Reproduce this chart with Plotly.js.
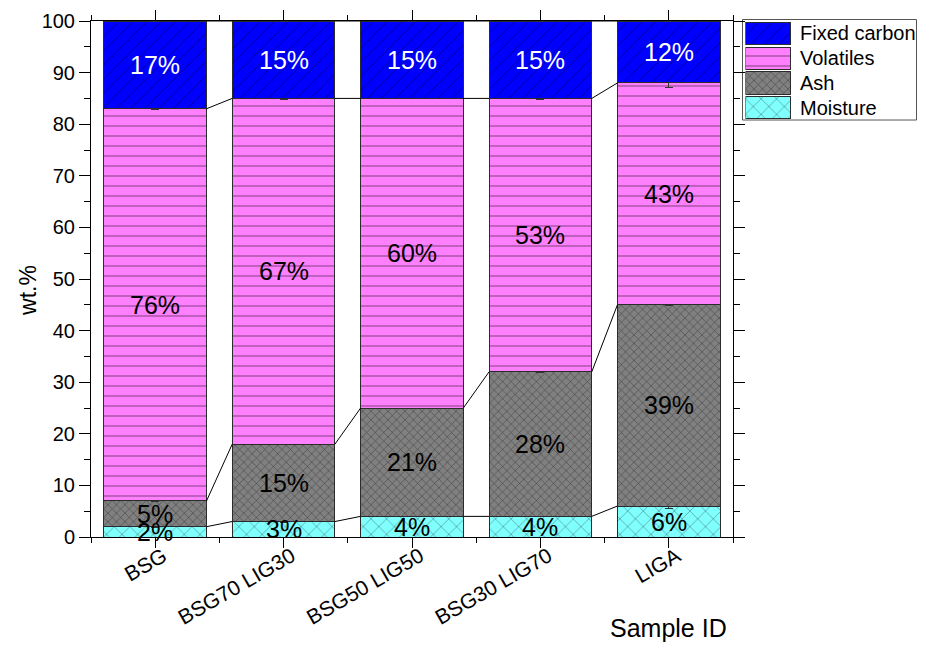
<!DOCTYPE html>
<html>
<head>
<meta charset="utf-8">
<script src="https://cdn.plot.ly/plotly-3.0.1.min.js"></script>
<style>
  html, body { margin: 0; padding: 0; background: #fff; }
  #chart { width: 927px; height: 647px; }
</style>
</head>
<body>
<div id="chart"></div>
<script>
// Proximate analysis of the samples (wt.%)
const categories = ['BSG', 'BSG70 LIG30', 'BSG50 LIG50', 'BSG30 LIG70', 'LIGA'];
const moisture = [2, 3, 4, 4, 6];
const ash = [5, 15, 21, 28, 39];
const volatiles = [76, 67, 60, 53, 43];
const fixedCarbon = [17, 15, 15, 15, 12];

// standard deviations shown as error bars on the top of each segment
const moistureErr = [0.1, 0.1, 0.1, 0.1, 0.4];
const ashErr = [0.1, 0.1, 0.1, 0.1, 0.1];
const volatilesErr = [0.2, 0.2, 0.1, 0.3, 0.8];
const fixedCarbonErr = [0, 0, 0, 0, 0];

const seriesNames = ['Moisture', 'Ash', 'Volatiles', 'Fixed carbon'];
const yTicks = [0, 10, 20, 30, 40, 50, 60, 70, 80, 90, 100];

const FONT = 'Arial, "Liberation Sans", sans-serif';

// fill style of each component (bottom to top)
const styles = [
  { bg: '#80FFFF', shape: 'x', size: 11, solidity: 0.1, text: '#000' },
  { bg: '#808080', shape: 'x', size: 6, solidity: 0.18, text: '#000' },
  { bg: '#FF80FF', shape: '-', size: 10, solidity: 0.1, text: '#000' },
  { bg: '#0000FF', shape: '/', size: 10, solidity: 0.08, text: '#fff' }
];

const values = [moisture, ash, volatiles, fixedCarbon];
const errors = [moistureErr, ashErr, volatilesErr, fixedCarbonErr];
const xIdx = categories.map((_, i) => i);
const BAR_W = 0.8;

function markerFor(s) {
  return {
    color: s.bg,
    line: { color: '#2b2b2b', width: 1 },
    pattern: { shape: s.shape, size: s.size, solidity: s.solidity,
               fgcolor: '#000', bgcolor: s.bg, fillmode: 'overlay' }
  };
}

const traces = [];
const annotations = [];

// running stack tops
let base = categories.map(() => 0);
values.forEach((vals, k) => {
  const tops = vals.map((v, i) => base[i] + v);
  traces.push({
    type: 'bar', x: xIdx, y: vals, width: BAR_W, name: seriesNames[k],
    marker: markerFor(styles[k]), showlegend: false,
    error_y: { type: 'data', array: errors[k], visible: true,
               color: '#333', thickness: 1, width: 4 },
    xaxis: 'x', yaxis: 'y', hoverinfo: 'x+y+name'
  });
  // connector lines between neighbouring bars at each stack level
  const lx = [], ly = [];
  for (let i = 0; i < categories.length - 1; i++) {
    lx.push(i + BAR_W / 2, i + 1 - BAR_W / 2, null);
    ly.push(tops[i], tops[i + 1], null);
  }
  traces.push({
    type: 'scatter', mode: 'lines', x: lx, y: ly, showlegend: false,
    line: { color: '#000', width: 1 }, hoverinfo: 'skip', connectgaps: false,
    xaxis: 'x', yaxis: 'y'
  });
  // percentage labels in the middle of each segment
  vals.forEach((v, i) => {
    annotations.push({
      x: i, y: base[i] + v / 2, xref: 'x', yref: 'y',
      xanchor: 'center', yanchor: 'middle',
      text: v + '%', showarrow: false,
      font: { family: FONT, size: 25, color: styles[k].text }
    });
  });
  base = tops;
});

// legend swatches drawn as bars in a small inset axis
seriesNames.forEach((name, k) => {
  traces.push({
    type: 'bar', orientation: 'h', x: [1], y: [k], base: 0, width: 0.9,
    marker: markerFor(styles[k]), showlegend: false, hoverinfo: 'skip',
    xaxis: 'x2', yaxis: 'y2'
  });
  annotations.push({
    x: 0.8549, xref: 'paper', xanchor: 'left', y: k, yref: 'y2', yanchor: 'middle',
    text: name, showarrow: false,
    font: { family: FONT, size: 20, color: '#000' }
  });
});

// axis titles
annotations.push({
  x: -0.0762, xref: 'paper', xanchor: 'center',
  y: 0.4787, yref: 'paper', yanchor: 'middle', textangle: -90,
  text: 'wt.%', showarrow: false, font: { family: FONT, size: 23, color: '#000' }
});
annotations.push({
  x: 0.6989, xref: 'paper', xanchor: 'center',
  y: -0.1764, yref: 'paper', yanchor: 'middle',
  text: 'Sample ID', showarrow: false, font: { family: FONT, size: 25, color: '#000' }
});

const layout = {
  width: 927, height: 647,
  margin: { l: 91, r: 9, t: 21, b: 110 },
  paper_bgcolor: '#fff', plot_bgcolor: '#fff',
  barmode: 'stack',
  showlegend: false,
  font: { family: FONT, color: '#000' },
  xaxis: {
    domain: [0, 0.7763], range: [-0.5, 4.5], fixedrange: true,
    tickmode: 'array', tickvals: xIdx, ticktext: categories, tickangle: -30,
    ticks: 'outside', ticklen: 10, tickwidth: 1, tickcolor: '#000',
    ticklabelstandoff: -12, ticklabelshift: 8,
    minor: { tick0: 0.5, dtick: 1, ticks: 'outside', ticklen: 5, tickcolor: '#000', showgrid: false },
    showline: true, linecolor: '#000', linewidth: 1, mirror: 'allticks',
    showgrid: false, zeroline: false,
    tickfont: { family: FONT, size: 21, color: '#000' }
  },
  yaxis: {
    range: [0, 100], fixedrange: true,
    tickmode: 'array', tickvals: yTicks,
    ticks: 'outside', ticklen: 11, tickwidth: 1, tickcolor: '#000',
    minor: { tick0: 5, dtick: 10, ticks: 'outside', ticklen: 6, tickcolor: '#000', showgrid: false },
    showline: true, linecolor: '#000', linewidth: 1, mirror: 'allticks',
    showgrid: false, zeroline: false,
    tickfont: { family: FONT, size: 20, color: '#000' }
  },
  xaxis2: {
    domain: [0.7914, 0.8464], range: [0, 1], anchor: 'y2',
    visible: false, fixedrange: true
  },
  yaxis2: {
    domain: [0.808, 1.0], range: [-0.5, 3.5], anchor: 'x2',
    visible: false, fixedrange: true
  },
  shapes: [{
    type: 'rect', xref: 'paper', yref: 'paper',
    x0: 0.7878, x1: 0.9982, y0: 0.8081, y1: 1.0029,
    line: { color: '#555', width: 1 }, fillcolor: 'rgba(0,0,0,0)', layer: 'below'
  }],
  annotations: annotations
};

Plotly.newPlot('chart', traces, layout, { displayModeBar: false, staticPlot: true });
</script>
</body>
</html>
